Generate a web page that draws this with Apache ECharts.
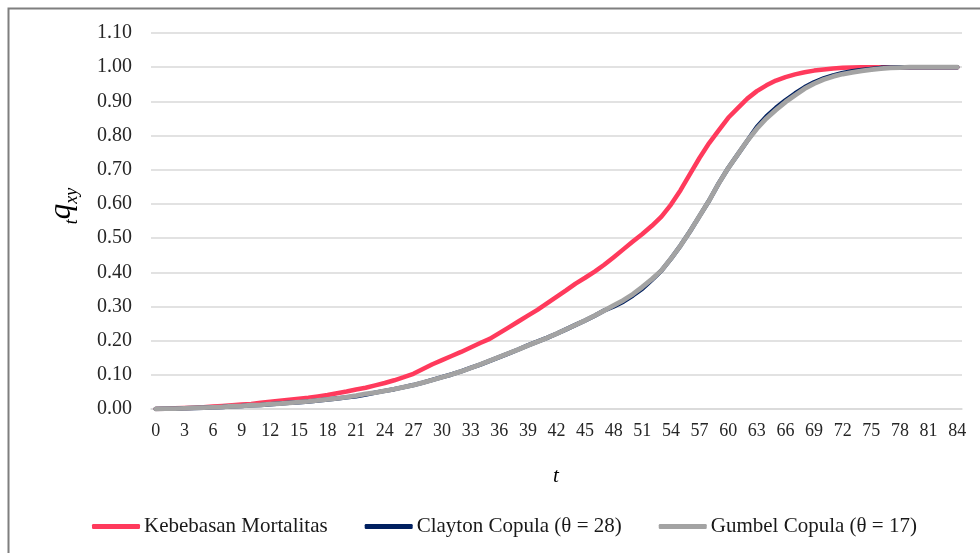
<!DOCTYPE html>
<html>
<head>
<meta charset="utf-8">
<script src="https://cdn.jsdelivr.net/npm/echarts@6/dist/echarts.min.js"></script>
<style>
html,body{margin:0;padding:0;background:#fff;}
#c{width:980px;height:553px;}
</style>
</head>
<body>
<div id="c"></div>
<script>
const categories = [];
for (let i = 0; i <= 84; i++) categories.push(String(i));

const yTicks = [0, 0.1, 0.2, 0.3, 0.4, 0.5, 0.6, 0.7, 0.8, 0.9, 1.0, 1.1];

const seriesNames = ['Kebebasan Mortalitas', 'Clayton Copula (\u03b8 = 28)', 'Gumbel Copula (\u03b8 = 17)'];

const kebebasan = [
  0.000, 0.001, 0.002, 0.003, 0.004, 0.005, 0.007, 0.009, 0.011, 0.013,
  0.015, 0.018, 0.021, 0.024, 0.027, 0.030, 0.033, 0.037, 0.041, 0.046,
  0.051, 0.057, 0.062, 0.069, 0.076, 0.084, 0.093, 0.103, 0.117, 0.131,
  0.143, 0.155, 0.167, 0.180, 0.193, 0.205, 0.222, 0.239, 0.256, 0.273,
  0.290, 0.309, 0.328, 0.347, 0.367, 0.384, 0.402, 0.422, 0.444, 0.467,
  0.490, 0.512, 0.536, 0.563, 0.598, 0.640, 0.688, 0.735, 0.778, 0.815,
  0.852, 0.880, 0.908, 0.930, 0.947, 0.961, 0.971, 0.979, 0.985, 0.990,
  0.993, 0.996, 0.998, 0.999, 1.000, 1.000, 1.000, 1.000, 1.000, 1.000,
  1.000, 1.000, 1.000, 1.000, 1.000
];

const clayton = [
  0.000, 0.001, 0.001, 0.002, 0.003, 0.004, 0.005, 0.006, 0.008, 0.009,
  0.011, 0.012, 0.014, 0.016, 0.018, 0.020, 0.022, 0.025, 0.028, 0.031,
  0.034, 0.037, 0.042, 0.048, 0.053, 0.058, 0.064, 0.070, 0.077, 0.085,
  0.093, 0.101, 0.110, 0.120, 0.130, 0.141, 0.152, 0.163, 0.174, 0.186,
  0.197, 0.208, 0.220, 0.233, 0.246, 0.259, 0.273, 0.288, 0.300, 0.314,
  0.332, 0.352, 0.378, 0.405, 0.440, 0.478, 0.520, 0.565, 0.610, 0.660,
  0.705, 0.745, 0.785, 0.825, 0.856, 0.881, 0.903, 0.923, 0.941, 0.956,
  0.967, 0.976, 0.983, 0.988, 0.992, 0.995, 0.998, 0.999, 1.000, 1.000,
  1.000, 1.000, 1.000, 1.000, 1.000
];

const gumbel = [
  0.000, 0.001, 0.001, 0.002, 0.003, 0.004, 0.005, 0.006, 0.008, 0.009,
  0.011, 0.012, 0.014, 0.016, 0.018, 0.020, 0.022, 0.025, 0.028, 0.031,
  0.035, 0.039, 0.044, 0.048, 0.053, 0.058, 0.064, 0.070, 0.077, 0.085,
  0.093, 0.101, 0.110, 0.120, 0.130, 0.141, 0.152, 0.163, 0.174, 0.186,
  0.197, 0.208, 0.220, 0.233, 0.246, 0.259, 0.273, 0.288, 0.303, 0.318,
  0.336, 0.357, 0.380, 0.405, 0.440, 0.478, 0.520, 0.565, 0.610, 0.660,
  0.705, 0.745, 0.785, 0.820, 0.850, 0.875, 0.898, 0.918, 0.937, 0.952,
  0.964, 0.973, 0.980, 0.985, 0.989, 0.993, 0.996, 0.998, 0.999, 1.000,
  1.000, 1.000, 1.000, 1.000, 1.000
];

const colors = ['#FF3A5C', '#002060', '#A3A3A3'];
const FONT = '"Liberation Serif", "Times New Roman", serif';

const chart = echarts.init(document.getElementById('c'), null, {renderer: 'canvas'});

chart.setOption({
  animation: false,
  backgroundColor: '#fff',
  textStyle: {fontFamily: FONT},
  grid: {left: 151, right: 18, top: 33, bottom: 144},
  legend: {
    data: seriesNames,
    left: 87,
    top: 511,
    itemGap: 37,
    itemWidth: 48,
    itemHeight: 5,
    icon: 'roundRect',
    textStyle: {fontFamily: FONT, fontSize: 21, color: '#1a1a1a', padding: [0,0,0,-1]}
  },
  xAxis: {
    type: 'category',
    data: categories,
    boundaryGap: true,
    axisLine: {show: true, lineStyle: {color: '#D9D9D9', width: 1.5}},
    axisTick: {show: false},
    axisLabel: {interval: 2, fontSize: 18, color: '#262626', margin: 13, fontFamily: FONT},
    splitLine: {show: false}
  },
  yAxis: {
    type: 'value',
    min: 0,
    max: 1.1,
    interval: 0.1,
    axisLine: {show: false},
    axisTick: {show: false},
    axisLabel: {fontSize: 20, color: '#262626', margin: 19, fontFamily: FONT,
      formatter: v => {
        const t = yTicks.find(x => Math.abs(x - v) < 1e-6);
        return (t !== undefined ? t : v).toFixed(2);
      }},
    splitLine: {show: true, lineStyle: {color: '#D9D9D9', width: 1.5}}
  },
  graphic: [
    {type: 'rect', left: 6, top: 6, shape: {width: 990, height: 560},
      style: {fill: 'none', stroke: '#7F7F7F', lineWidth: 2}, silent: true, z: 100},
    {type: 'text', x: 556, y: 476,
      style: {text: 't', font: 'italic 21px ' + FONT, fill: '#000', align: 'center', verticalAlign: 'middle'}},
    {type: 'text', x: 62, y: 206, rotation: Math.PI / 2,
      style: {
        text: '{t|t}{q|q}{s|xy}',
        align: 'center', verticalAlign: 'middle',
        rich: {
          t: {fontFamily: FONT, fontStyle: 'italic', fontSize: 18, fill: '#000', verticalAlign: 'bottom', lineHeight: 38},
          q: {fontFamily: FONT, fontStyle: 'italic', fontSize: 31, fill: '#000', verticalAlign: 'middle', lineHeight: 38},
          s: {fontFamily: FONT, fontStyle: 'italic', fontSize: 18, fill: '#000', verticalAlign: 'bottom', lineHeight: 38}
        }
      }}
  ],
  series: [
    {name: seriesNames[0], type: 'line', data: kebebasan, showSymbol: false, symbol: 'none',
      lineStyle: {color: colors[0], width: 4.5, cap: 'round', join: 'round'}, itemStyle: {color: colors[0]}},
    {name: seriesNames[1], type: 'line', data: clayton, showSymbol: false, symbol: 'none',
      lineStyle: {color: colors[1], width: 4.5, cap: 'round', join: 'round'}, itemStyle: {color: colors[1]}},
    {name: seriesNames[2], type: 'line', data: gumbel, showSymbol: false, symbol: 'none',
      lineStyle: {color: colors[2], width: 4.8, cap: 'round', join: 'round'}, itemStyle: {color: colors[2]}}
  ]
});
</script>
</body>
</html>
